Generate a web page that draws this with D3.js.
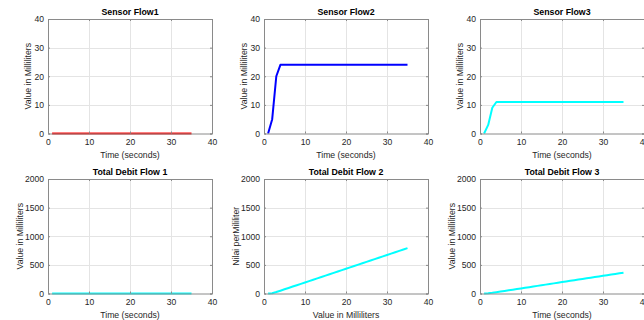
<!DOCTYPE html>
<html>
<head>
<meta charset="utf-8">
<script src="https://cdn.jsdelivr.net/npm/d3@7"></script>
<style>
  html, body { margin: 0; padding: 0; background: #fff; }
  svg { display: block; font-family: "Liberation Sans", Arial, Helvetica, sans-serif; }
</style>
</head>
<body>
<svg id="chart" width="644" height="320"></svg>
<script>
// Time axis (seconds) shared by every panel
const time = [1, 2, 3, 4, 5, 6, 7, 8, 9, 10, 11, 12, 13, 14, 15, 16, 17, 18, 19, 20,
  21, 22, 23, 24, 25, 26, 27, 28, 29, 30, 31, 32, 33, 34, 35];

// Sensor readings (ml)
const sensorFlow1 = [0, 0, 0, 0, 0, 0, 0, 0, 0, 0, 0, 0, 0, 0, 0, 0, 0, 0, 0, 0,
  0, 0, 0, 0, 0, 0, 0, 0, 0, 0, 0, 0, 0, 0, 0];
const sensorFlow2 = [0, 5, 20, 24, 24, 24, 24, 24, 24, 24, 24, 24, 24, 24, 24, 24, 24, 24, 24, 24,
  24, 24, 24, 24, 24, 24, 24, 24, 24, 24, 24, 24, 24, 24, 24];
const sensorFlow3 = [0, 3, 9, 11, 11, 11, 11, 11, 11, 11, 11, 11, 11, 11, 11, 11, 11, 11, 11, 11,
  11, 11, 11, 11, 11, 11, 11, 11, 11, 11, 11, 11, 11, 11, 11];

// Running totals (ml)
const totalFlow1 = [0, 0, 0, 0, 0, 0, 0, 0, 0, 0, 0, 0, 0, 0, 0, 0, 0, 0, 0, 0,
  0, 0, 0, 0, 0, 0, 0, 0, 0, 0, 0, 0, 0, 0, 0];
const totalFlow2 = [0, 5, 25, 49, 73, 97, 121, 145, 169, 193, 217, 241, 265, 289, 313, 337, 361, 385, 409, 433,
  457, 481, 505, 529, 553, 577, 601, 625, 649, 673, 697, 721, 745, 769, 793];
const totalFlow3 = [0, 3, 12, 23, 34, 45, 56, 67, 78, 89, 100, 111, 122, 133, 144, 155, 166, 177, 188, 199,
  210, 221, 232, 243, 254, 265, 276, 287, 298, 309, 320, 331, 342, 353, 364];

// Tick values
const xTicks = [0, 10, 20, 30, 40];
const sensorTicks = [0, 10, 20, 30, 40];
const totalTicks = [0, 500, 1000, 1500, 2000];

const panels = [
  { title: 'Sensor Flow1', values: sensorFlow1, color: '#ff0000', yMax: 40, yTicks: sensorTicks,
    xLabel: 'Time (seconds)', yLabel: 'Value in Milliliters', col: 0, row: 0 },
  { title: 'Sensor Flow2', values: sensorFlow2, color: '#0000ff', yMax: 40, yTicks: sensorTicks,
    xLabel: 'Time (seconds)', yLabel: 'Value in Milliliters', col: 1, row: 0 },
  { title: 'Sensor Flow3', values: sensorFlow3, color: '#00ffff', yMax: 40, yTicks: sensorTicks,
    xLabel: 'Time (seconds)', yLabel: 'Value in Milliliters', col: 2, row: 0 },
  { title: 'Total Debit Flow 1', values: totalFlow1, color: '#00ffff', yMax: 2000, yTicks: totalTicks,
    xLabel: 'Time (seconds)', yLabel: 'Value in Milliliters', col: 0, row: 1 },
  { title: 'Total Debit Flow 2', values: totalFlow2, color: '#00ffff', yMax: 2000, yTicks: totalTicks,
    xLabel: 'Value in Milliliters', yLabel: 'Nilai perMililiter', col: 1, row: 1 },
  { title: 'Total Debit Flow 3', values: totalFlow3, color: '#00ffff', yMax: 2000, yTicks: totalTicks,
    xLabel: 'Time (seconds)', yLabel: 'Value in Milliliters', col: 2, row: 1 },
];

// Layout (MATLAB-like subplot grid)
const COL_LEFT = [48, 264, 480];
const ROW_TOP = [19, 179];
const AX_W = 164;
const AX_H = 114.5;
const YLABEL_OFFSET = [17, 25]; // baseline distance left of the axes, per row

const BOX_COLOR = '#8a8a8a';
const GRID_COLOR = '#e4e4e4';
const TEXT_COLOR = '#262626';

const svg = d3.select('#chart');

panels.forEach(p => {
  const left = COL_LEFT[p.col];
  const top = ROW_TOP[p.row];

  const x = d3.scaleLinear().domain([0, 40]).range([0, AX_W]);
  const y = d3.scaleLinear().domain([0, p.yMax]).range([AX_H, 0]);

  const g = svg.append('g').attr('transform', `translate(${left},${top})`);

  // Grid
  g.append('g').selectAll('line.gx')
    .data(xTicks.slice(1, -1))
    .join('line')
    .attr('x1', d => Math.round(x(d)) + 0.5).attr('x2', d => Math.round(x(d)) + 0.5)
    .attr('y1', 0).attr('y2', AX_H)
    .attr('stroke', GRID_COLOR);
  g.append('g').selectAll('line.gy')
    .data(p.yTicks.slice(1, -1))
    .join('line')
    .attr('x1', 0).attr('x2', AX_W)
    .attr('y1', d => Math.round(y(d)) + 0.5).attr('y2', d => Math.round(y(d)) + 0.5)
    .attr('stroke', GRID_COLOR);

  // Data line
  const line = d3.line()
    .x((d, i) => x(time[i]))
    .y(d => y(d));
  g.append('path')
    .datum(p.values)
    .attr('d', line)
    .attr('fill', 'none')
    .attr('stroke', p.color)
    .attr('stroke-width', 2)
    .attr('stroke-linejoin', 'round');

  // Axes: ticks inward, labels outside
  g.append('g').attr('transform', `translate(0,${AX_H})`)
    .call(d3.axisBottom(x).tickValues(xTicks).tickSize(-2).tickPadding(5).tickFormat(d3.format('d')));
  g.append('g')
    .call(d3.axisLeft(y).tickValues(p.yTicks).tickSize(-2).tickPadding(4).tickFormat(d3.format('d')));
  g.append('g')
    .call(d3.axisTop(x).tickValues(xTicks).tickSize(-2).tickFormat(''));
  g.append('g').attr('transform', `translate(${AX_W},0)`)
    .call(d3.axisRight(y).tickValues(p.yTicks).tickSize(-2).tickFormat(''));

  g.selectAll('.domain').attr('stroke', BOX_COLOR);
  g.selectAll('.tick line').attr('stroke', BOX_COLOR);
  g.selectAll('.tick text')
    .attr('fill', TEXT_COLOR)
    .attr('font-size', '8.6px')
    .attr('font-family', '"Liberation Sans", Arial, sans-serif');

  // Title
  g.append('text')
    .attr('x', AX_W / 2).attr('y', -3.8)
    .attr('text-anchor', 'middle')
    .attr('font-size', '8.8px')
    .attr('font-weight', 'bold')
    .attr('fill', '#000')
    .text(p.title);

  // X label
  g.append('text')
    .attr('x', AX_W / 2).attr('y', AX_H + 24)
    .attr('text-anchor', 'middle')
    .attr('font-size', '8.7px')
    .attr('fill', TEXT_COLOR)
    .text(p.xLabel);

  // Y label
  g.append('text')
    .attr('transform', `translate(${-YLABEL_OFFSET[p.row]},${AX_H / 2}) rotate(-90)`)
    .attr('text-anchor', 'middle')
    .attr('font-size', '8.7px')
    .attr('fill', TEXT_COLOR)
    .text(p.yLabel);
});
</script>
</body>
</html>
